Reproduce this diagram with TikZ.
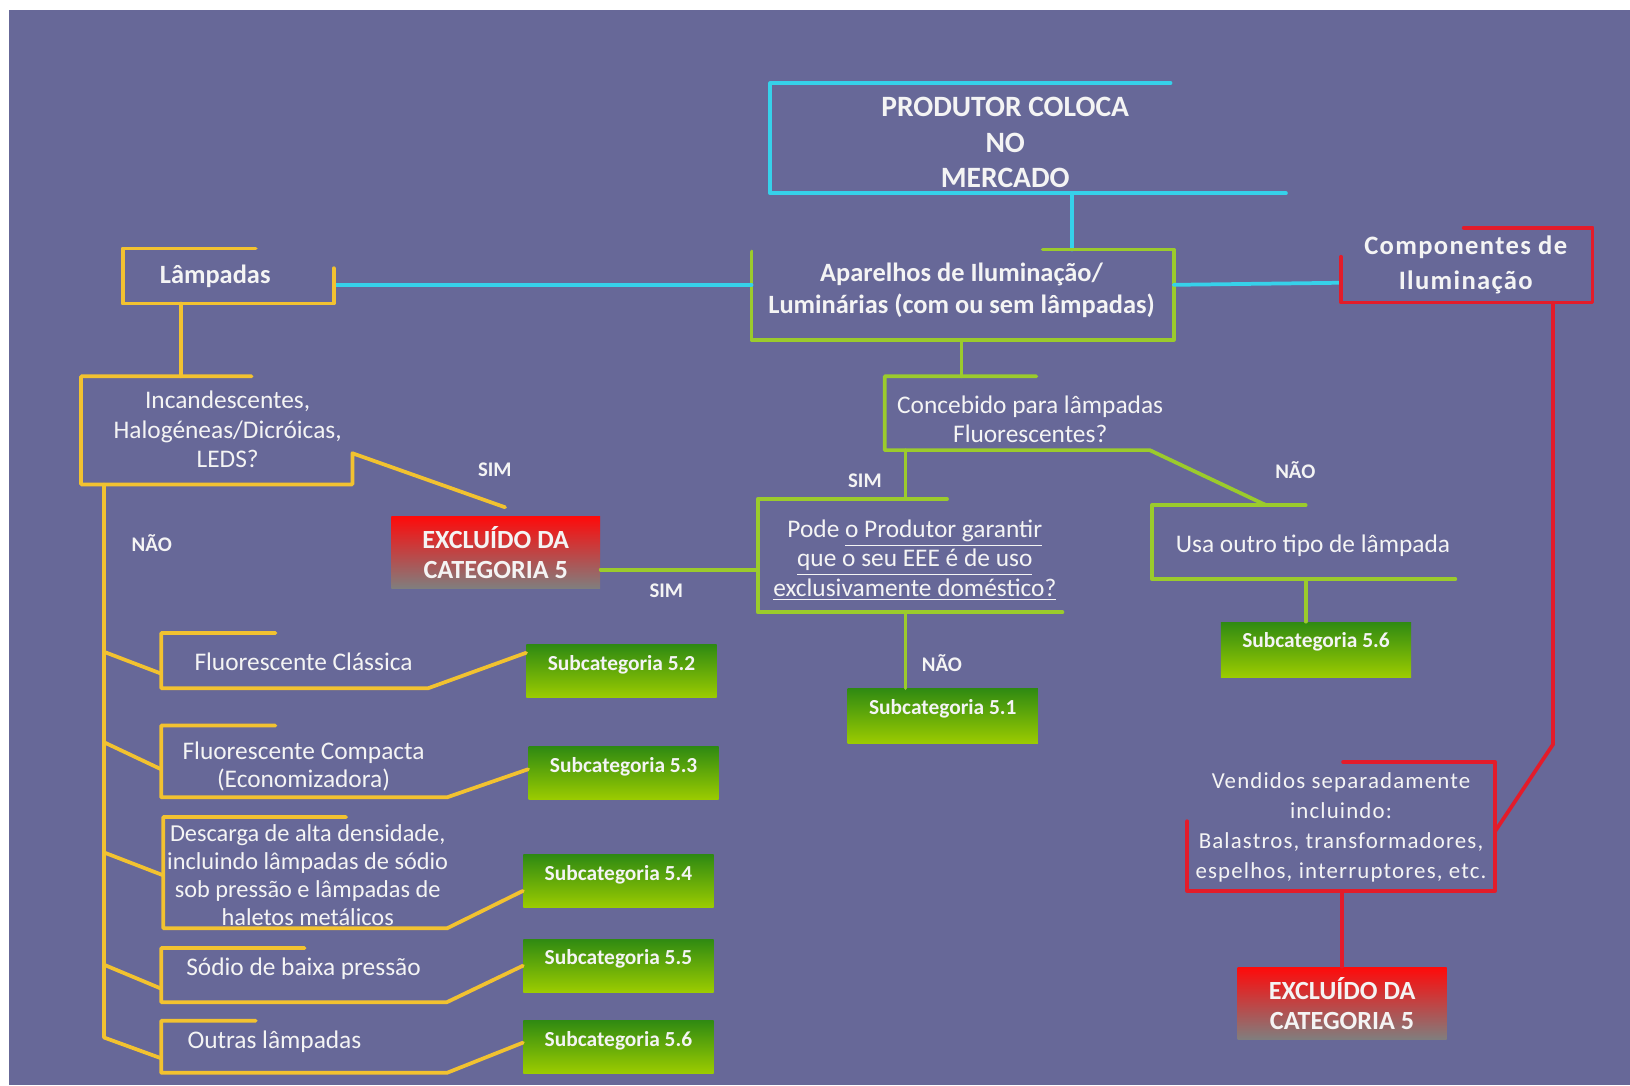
\documentclass[tikz,border=0pt]{standalone}
\usepackage{fontspec}
\setmainfont{Carlito}
\newfontfamily\wideface[LetterSpace=5]{Carlito}
\usetikzlibrary{positioning,calc}
\definecolor{cBack}{HTML}{676898}
\definecolor{cCyan}{HTML}{36D1EA}
\definecolor{cGold}{HTML}{F2C230}
\definecolor{cLime}{HTML}{9BCB2C}
\definecolor{cRed}{HTML}{E31C2A}
\definecolor{cText}{HTML}{F4F4F4}
\definecolor{cSubTop}{HTML}{2F8A12}
\definecolor{cSubBot}{HTML}{9CCC00}
\definecolor{cExclTop}{HTML}{FF0A0A}
\definecolor{cExclBot}{HTML}{7F7F7F}
\tikzset{
  wire/.style={line width=1.8pt, line cap=round, line join=round},
  cyanWire/.style={wire, draw=cCyan},
  goldWire/.style={wire, draw=cGold},
  limeWire/.style={wire, draw=cLime},
  redWire/.style={wire, draw=cRed},
  txt/.style={text=cText, align=center, inner sep=0pt, font=\fontsize{12.2}{14}\selectfont},
  head/.style={txt, font=\fontsize{12.7}{15.5}\selectfont\bfseries},
  answer/.style={txt, font=\fontsize{10}{12}\selectfont\bfseries},
  subBox/.style={top color=cSubTop, bottom color=cSubBot, draw=none, text=cText,
                 font=\fontsize{10.3}{12}\selectfont\bfseries, minimum width=91.5pt,
                 inner sep=0pt, text height=12.4pt, text depth=13.1pt, anchor=north west},
  exclBox/.style={top color=cExclTop, bottom color=cExclBot, draw=none, text=cText,
                  align=center, font=\fontsize{12.6}{14.5}\selectfont\bfseries,
                  minimum width=100.5pt, minimum height=35pt, inner sep=0pt, anchor=north west},
}

\begin{document}
\begin{tikzpicture}[x=0.5pt, y=-0.5pt]

\useasboundingbox (0,0) rectangle (1568,1044);
\fill[white] (0,0) rectangle (1568,1044);
\fill[cBack] (9,10) rectangle (1568,1044);

% ========== TOP: PRODUTOR / APARELHOS ==========
\node[head, font=\fontsize{14.2}{17}\selectfont\bfseries] (produtor) at (967,137)
  {PRODUTOR COLOCA\\NO\\MERCADO};
\draw[cyanWire] (1126,80) -- (741,80) -- (741,186) -- (1237,186);
\draw[cyanWire] (1031,186) -- (1031,240);

\node[head] (aparelhos) at (925,279)
  {Aparelhos de Ilumina\c{c}\~ao/\\Lumin\'arias (com ou sem l\^ampadas)};
\draw[limeWire] (1003,240) -- (1129,240) -- (1129,327) -- (723,327) -- (723,242);

\draw[cyanWire] (323,274) -- (723,274);
\draw[cyanWire] (1129,274) -- (1290,272);

% ========== LEFT: LAMPADAS ==========
\node[head] (lampadas) at (207,266) {L\^ampadas};
\draw[goldWire] (246,239) -- (118,239) -- (118,292) -- (321,292) -- (321,258);
\draw[goldWire] (174,292) -- (174,362);

\node[txt] (incand) at (219,413) {Incandescentes,\\Halog\'eneas/Dicr\'oicas,\\LEDS?};
\node[exclBox] (exclL) at (376,496) {EXCLU\'IDO DA\\CATEGORIA 5};
\draw[goldWire] (242,362) -- (78,362) -- (78,466) -- (339,466) -- (339,436)
  -- ($(exclL.north)+(9,-8)$);
\node[answer] (simL) at (476,452) {SIM};
\node[answer] (naoL) at (146,522) {N\~AO};

% trunk and lamp types
\draw[goldWire] (100,466) -- (100,998) -- (155,1018);
\foreach \n/\s/\yt/\yb/\xl/\xt/\xb/\xs/\ys/\dy/\ya/\yc/\tx/\ty/\fs/\lbl in {
  52/5.2/609/662/155/265/412/506/620/8/627/648/292/637/12.2/{Fluorescente Cl\'assica},
  53/5.3/698/767/155/265/430/508/718/22/714/740/292/737/12.2/{Fluorescente Compacta\\(Economizadora)},
  54/5.4/786/893/157/333/430/503/822/35/820/842/296/842/11.7/{Descarga de alta densidade,\\incluindo l\^ampadas de s\'odio\\sob press\~ao e l\^ampadas de\\haletos met\'alicos},
  55/5.5/912/964/155/293/430/503/903/26/928/951/292/932/12.2/{S\'odio de baixa press\~ao},
  56/5.6/982/1032/155/246/430/503/981/22/998/1018/264/1002/12.2/{Outras l\^ampadas}} {
  \node[txt, font=\fontsize{\fs}{13.4}\selectfont] (lamp\n) at (\tx,\ty) {\lbl};
  \node[subBox] (subL\n) at (\xs,\ys) {Subcategoria \s};
  \draw[goldWire] (\xt,\yt) -- (\xl,\yt) -- (\xl,\yb) -- (\xb,\yb)
    -- ($(subL\n.north west)+(0,\dy)$);
  \ifnum\n<56
    \draw[goldWire] (100,\ya) -- (\xl,\yc);
  \fi
}

% ========== CENTRE: CONCEBIDO / PODE ==========
\draw[limeWire] (925,327) -- (925,362);
\node[txt] (concebido) at (991,403) {Concebido para l\^ampadas\\Fluorescentes?};
\draw[limeWire] (997,362) -- (851,362) -- (851,433) -- (1106,433) -- (1218,486);
\node[answer] (simC) at (832,462) {SIM};
\node[answer] (naoC) at (1246,452) {N\~AO};
\draw[limeWire] (871,433) -- (871,480);

\node[txt] (pode) at (880,539)
  {Pode \underline{o Produtor garantir}\\\underline{que o seu EEE \'e de uso}\\\underline{exclusivamente dom\'estico?}};
\draw[limeWire] (911,480) -- (729,480) -- (729,589) -- (1022,589);
\draw[limeWire] (exclL.east |- 0,548) -- (729,548);
\node[answer] (simP) at (641,568) {SIM};

\node[subBox, text depth=14.1pt] (sub51) at (815,662) {Subcategoria 5.1};
\draw[limeWire] (871,589) -- (871,662);
\node[answer] (naoP) at (906,638) {N\~AO};

\node[txt] (usa) at (1263,525) {Usa outro tipo de l\^ampada};
\draw[limeWire] (1256,486) -- (1108,486) -- (1108,557) -- (1400,557);
\node[subBox, text depth=14.1pt] (subR56) at (1174,598) {Subcategoria 5.6};
\draw[limeWire] (1256,557) -- (subR56.north -| 1256,0);

% ========== RIGHT: COMPONENTES ==========
\node[head, font=\fontsize{12.8}{17}\selectfont\bfseries\wideface] (componentes) at (1410,255)
  {Componentes de\\Ilumina\c{c}\~ao};
\draw[redWire] (1408,219) -- (1532,219) -- (1532,291) -- (1290,291) -- (1290,247);

\node[txt, font=\fontsize{11}{14.5}\selectfont\wideface] (vendidos) at (1290,796)
  {Vendidos separadamente\\incluindo:\\Balastros, transformadores,\\espelhos, interruptores, etc.};
\draw[redWire] (1292,733) -- (1438,733) -- (1438,857) -- (1142,857) -- (1142,790);
\draw[redWire] (1494,291) -- (1494,716) -- (1438,800);

\node[exclBox, anchor=north] (exclR) at (1291,930) {EXCLU\'IDO DA\\CATEGORIA 5};
\draw[redWire] (1291,857) -- (exclR.north);

\end{tikzpicture}
\end{document}
